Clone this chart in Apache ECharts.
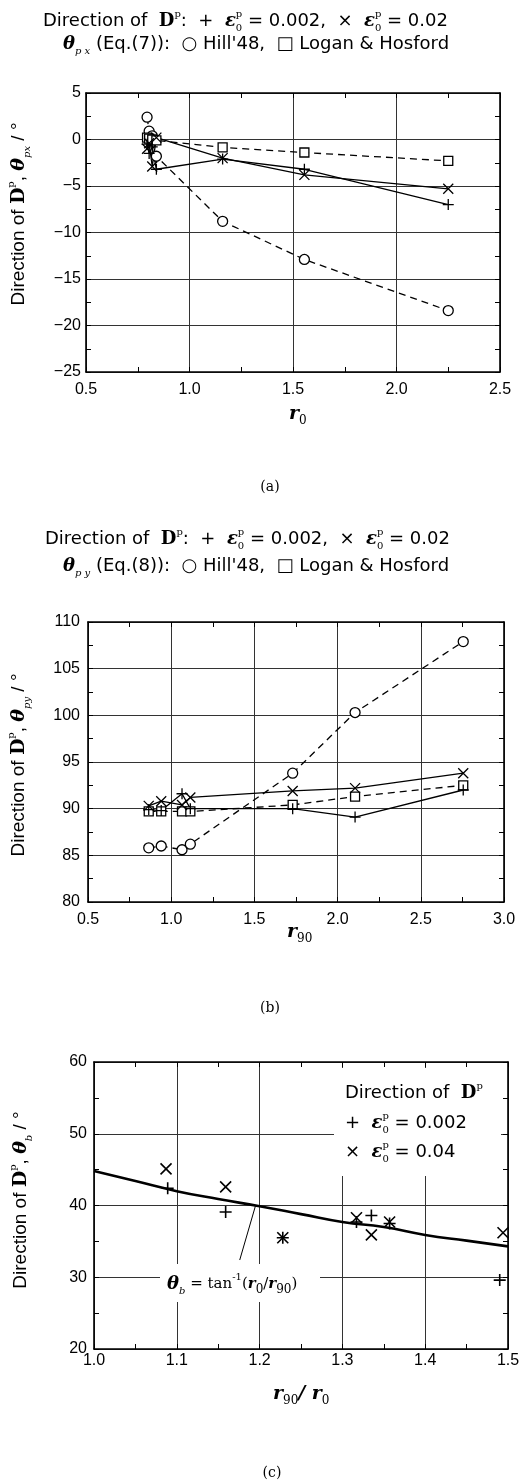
<!DOCTYPE html>
<html>
<head>
<meta charset="utf-8">
<script src="https://cdn.jsdelivr.net/npm/echarts@6/dist/echarts.min.js"></script>
<style>
  html, body { margin: 0; padding: 0; background: #fff; }
  #main { width: 525px; height: 1482px; }
</style>
</head>
<body>
<div id="main"></div>
<script>
// (a) theta_px against r0
var r0 = [0.795, 0.805, 0.82, 0.84, 1.16, 1.555, 2.25];
var pxHill = [2.4, 0.9, 0.4, -1.8, -8.8, -12.9, -18.4];
var pxLogan = [0.2, 0.1, 0.0, -0.1, -0.85, -1.4, -2.3];
var pxPlus = [-0.5, -1.5, -0.8, -3.2, -2.1, -3.2, -7.0];
var pxCross = [-1.0, -0.4, -2.9, 0.2, -2.0, -3.8, -5.3];

// (b) theta_py against r90
var r90 = [0.865, 0.94, 1.065, 1.115, 1.73, 2.105, 2.755];
var pyHill = [85.8, 86.0, 85.6, 86.2, 93.8, 100.3, 107.9];
var pyLogan = [89.7, 89.7, 89.7, 89.7, 90.4, 91.3, 92.5];
var pyPlus = [89.9, 89.8, 91.6, 90.0, 90.0, 89.1, 92.0];
var pyCross = [90.3, 90.8, 90.4, 91.2, 91.9, 92.2, 93.8];

// (c) theta_b against r90/r0
var ratioPlus = [1.089, 1.159, 1.228, 1.317, 1.335, 1.357, 1.490];
var bPlus = [42.4, 39.1, 35.5, 37.7, 38.6, 37.5, 29.6];
var ratioCross = [1.087, 1.159, 1.228, 1.317, 1.335, 1.357, 1.494];
var bCross = [45.1, 42.6, 35.5, 38.3, 35.9, 37.7, 36.2];
var curveX = [1.0, 1.05, 1.1, 1.15, 1.2, 1.25, 1.3, 1.35, 1.4, 1.45, 1.5];
var curveY = [44.8, 43.4, 42.0, 40.9, 39.9, 38.8, 37.7, 37.0, 35.9, 35.1, 34.3];

var PLUS = 'path://M5,0L5,10M0,5L10,5';
var CROSS = 'path://M0,0L10,10M10,0L0,10';
var SANS = 'Liberation Sans';
var SERIF = 'DejaVu Serif';

function pairs(xs, ys) {
  return xs.map(function (x, i) { return [x, ys[i]]; });
}
function minus(v) {
  return v < 0 ? '\u2212' + Math.abs(v) : '' + v;
}

var rich = {
  t: { fontFamily: 'DejaVu Sans', fontSize: 18, lineHeight: 24, color: '#000' },
  D: { fontFamily: SERIF, fontWeight: 'bold', fontSize: 18, lineHeight: 24, color: '#000' },
  g: { fontFamily: SERIF, fontStyle: 'italic', fontWeight: 'bold', fontSize: 18, lineHeight: 24, color: '#000' },
  sup: { fontFamily: SERIF, fontSize: 10, lineHeight: 14, verticalAlign: 'top', color: '#000' },
  s0: { fontFamily: SERIF, fontSize: 10, lineHeight: 12, verticalAlign: 'bottom', width: 0.01, color: '#000' },
  sub: { fontFamily: SERIF, fontStyle: 'italic', fontSize: 10, lineHeight: 12, verticalAlign: 'bottom', color: '#000' },
  ts: { fontFamily: SERIF, fontSize: 15, lineHeight: 24, color: '#000' },
  gi: { fontFamily: SERIF, fontStyle: 'italic', fontWeight: 'bold', fontSize: 15, lineHeight: 24, color: '#000' },
  r: { fontFamily: SERIF, fontStyle: 'italic', fontWeight: 'bold', fontSize: 19, lineHeight: 26, color: '#000' },
  n: { fontFamily: SERIF, fontSize: 12, lineHeight: 12, verticalAlign: 'bottom', color: '#000' },
  y: { fontFamily: SANS, fontSize: 19, lineHeight: 26, color: '#000' },
  yD: { fontFamily: SERIF, fontWeight: 'bold', fontSize: 19, lineHeight: 26, color: '#000' },
  yg: { fontFamily: SERIF, fontStyle: 'italic', fontWeight: 'bold', fontSize: 19, lineHeight: 26, color: '#000' },
  cap: { fontFamily: SERIF, fontSize: 14, color: '#000' }
};

function txt(id, x, y, text, align, rot) {
  return {
    type: 'text', id: id, x: x, y: y, z: 10, rotation: rot || 0,
    style: { text: text, rich: rich, align: align || 'left', verticalAlign: 'middle' }
  };
}

function xAxes(grid, min, max, interval) {
  var base = {
    gridIndex: grid, type: 'value', min: min, max: max, interval: interval,
    axisLine: { onZero: false, lineStyle: { color: '#000', width: 1.6 } },
    axisTick: { inside: true, length: 5, lineStyle: { color: '#000' } },
    minorTick: { show: true, splitNumber: 2, length: 5, lineStyle: { color: '#000' } }
  };
  var bottom = Object.assign({}, base, {
    position: 'bottom',
    axisLabel: { margin: grid === 2 ? 4 : 10, fontFamily: SANS, fontSize: 16, color: '#000',
      formatter: function (v) { return v.toFixed(1); } },
    splitLine: { show: true, lineStyle: { color: '#333', width: 1 } }
  });
  var top = Object.assign({}, base, {
    position: 'top', axisLabel: { show: false }, splitLine: { show: false }
  });
  return [bottom, top];
}

function yAxes(grid, min, max, interval, margin) {
  var base = {
    gridIndex: grid, type: 'value', min: min, max: max, interval: interval,
    axisLine: { onZero: false, lineStyle: { color: '#000', width: 1.6 } },
    axisTick: { inside: true, length: 5, lineStyle: { color: '#000' } },
    minorTick: { show: true, splitNumber: 2, length: 5, lineStyle: { color: '#000' } }
  };
  var left = Object.assign({}, base, {
    position: 'left',
    axisLabel: { margin: margin, fontFamily: SANS, fontSize: 16, color: '#000', formatter: minus },
    splitLine: { show: true, lineStyle: { color: '#333', width: 1 } }
  });
  var right = Object.assign({}, base, {
    position: 'right', axisLabel: { show: false }, splitLine: { show: false }
  });
  return [left, right];
}

function hollow(sym, size, bw) {
  return {
    symbol: sym, symbolSize: size,
    itemStyle: {
      color: sym === 'circle' || sym === 'rect' ? '#fff' : 'rgba(0,0,0,0)',
      borderColor: '#000', borderWidth: bw || 1.3, opacity: 1
    }
  };
}

function lineSeries(axis, xs, ys, sym, size, dashed) {
  return Object.assign({
    type: 'line', xAxisIndex: axis, yAxisIndex: axis,
    data: pairs(xs, ys),
    lineStyle: { color: '#000', width: 1.3, type: dashed ? [7, 5] : 'solid' },
    z: 3
  }, hollow(sym, size));
}

function scatterSeries(axis, xs, ys, sym, size) {
  return Object.assign({
    type: 'scatter', xAxisIndex: axis, yAxisIndex: axis,
    data: pairs(xs, ys), z: 4
  }, hollow(sym, size, 1.6));
}

var chart = echarts.init(document.getElementById('main'), null, { renderer: 'canvas' });

var option = {
  animation: false,
  backgroundColor: '#fff',
  grid: [
    { left: 86, top: 93, width: 414, height: 279 },
    { left: 88, top: 622, width: 416, height: 280 },
    { left: 94, top: 1062, width: 414, height: 287 }
  ],
  xAxis: [].concat(
    xAxes(0, 0.5, 2.5, 0.5),
    xAxes(1, 0.5, 3.0, 0.5),
    xAxes(2, 1.0, 1.5, 0.1)
  ),
  yAxis: [].concat(
    yAxes(0, -25, 5, 5, 5),
    yAxes(1, 80, 110, 5, 8),
    yAxes(2, 20, 60, 10, 7)
  ),
  series: [
    lineSeries(0, r0, pxHill, 'circle', 10, true),
    lineSeries(0, r0, pxLogan, 'rect', 9, true),
    lineSeries(0, r0, pxPlus, PLUS, 11, false),
    lineSeries(0, r0, pxCross, CROSS, 10, false),

    lineSeries(2, r90, pyHill, 'circle', 10, true),
    lineSeries(2, r90, pyLogan, 'rect', 9, true),
    lineSeries(2, r90, pyPlus, PLUS, 11, false),
    lineSeries(2, r90, pyCross, CROSS, 10, false),

    {
      type: 'line', xAxisIndex: 4, yAxisIndex: 4, data: pairs(curveX, curveY),
      symbol: 'none', smooth: true, lineStyle: { color: '#000', width: 2.6 }, z: 3
    },
    scatterSeries(4, ratioPlus, bPlus, PLUS, 12),
    scatterSeries(4, ratioCross, bCross, CROSS, 11)
  ]
};

chart.setOption(option);

var p1 = chart.convertToPixel({ xAxisIndex: 4, yAxisIndex: 4 }, [1.195, 39.95]);
var p2 = chart.convertToPixel({ xAxisIndex: 4, yAxisIndex: 4 }, [1.176, 32.4]);

chart.setOption({
  graphic: [
    // titles of (a)
    txt('ta1', 43, 21, '{t|Direction of  }{D|D}{sup|p}{t|:  +  }{g|\u03b5}{s0|0}{sup|p}{t| = 0.002,  \u00d7  }{g|\u03b5}{s0|0}{sup|p}{t| = 0.02}'),
    txt('ta2', 63, 44, '{g|\u03b8}{sub|p x}{t| (Eq.(7)):  \u25cb Hill\'48,  \u25a1 Logan & Hosford}'),
    txt('ya', 19, 214, '{y|Direction of }{yD|D}{sup|p}{y|, }{yg|\u03b8}{sub|px}{y| / \u00b0}', 'center', Math.PI / 2),
    txt('xa', 289, 414, '{r|r}{n|0}'),
    txt('ca', 270, 487, '{cap|(a)}', 'center'),

    // titles of (b)
    txt('tb1', 45, 539, '{t|Direction of  }{D|D}{sup|p}{t|:  +  }{g|\u03b5}{s0|0}{sup|p}{t| = 0.002,  \u00d7  }{g|\u03b5}{s0|0}{sup|p}{t| = 0.02}'),
    txt('tb2', 63, 566, '{g|\u03b8}{sub|p y}{t| (Eq.(8)):  \u25cb Hill\'48,  \u25a1 Logan & Hosford}'),
    txt('yb', 19, 765, '{y|Direction of }{yD|D}{sup|p}{y|, }{yg|\u03b8}{sub|py}{y| / \u00b0}', 'center', Math.PI / 2),
    txt('xb', 287, 932, '{r|r}{n|90}'),
    txt('cb', 270, 1008, '{cap|(b)}', 'center'),

    // (c) legend box and curve label
    { type: 'rect', id: 'legbox', z: 1, shape: { x: 334, y: 1068, width: 167, height: 108 }, style: { fill: '#fff' } },
    txt('lc1', 345, 1093, '{t|Direction of  }{D|D}{sup|p}'),
    txt('lc2', 345, 1123, '{t|+  }{g|\u03b5}{s0|0}{sup|p}{t| = 0.002}'),
    txt('lc3', 345, 1152, '{t|\u00d7  }{g|\u03b5}{s0|0}{sup|p}{t| = 0.04}'),
    { type: 'rect', id: 'eqbox', z: 1, shape: { x: 160, y: 1264, width: 160, height: 38 }, style: { fill: '#fff' } },
    { type: 'line', id: 'ptr', z: 5, shape: { x1: p1[0], y1: p1[1], x2: p2[0], y2: p2[1] }, style: { stroke: '#000', lineWidth: 1 } },
    txt('eq', 167, 1284, '{g|\u03b8}{sub|b}{ts| = tan}{sup|-1}{ts|(}{gi|r}{n|0}{ts|/}{gi|r}{n|90}{ts|)}'),
    txt('yc', 21, 1200, '{y|Direction of }{yD|D}{sup|p}{y|, }{yg|\u03b8}{sub|b}{y| / \u00b0}', 'center', Math.PI / 2),
    txt('xc', 273, 1394, '{r|r}{n|90}{r|/ r}{n|0}'),
    txt('cc', 272, 1473, '{cap|(c)}', 'center')
  ]
});
</script>
</body>
</html>
